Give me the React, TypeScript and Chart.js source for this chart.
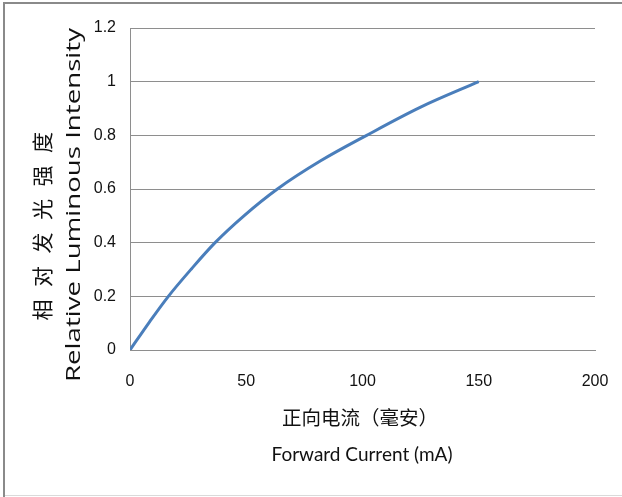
import React, { useEffect, useRef } from "react";
import { Chart, registerables } from "chart.js";

Chart.register(...registerables);

const currents = [0, 8.5, 16.5, 26.5, 36.6, 49, 63.4, 82, 101.8, 125, 150];
const intensity = [0, 0.106, 0.2, 0.303, 0.4, 0.5, 0.6, 0.705, 0.8, 0.905, 1.0];
const xTicks = [0, 50, 100, 150, 200];
const yTicks = [0, 0.2, 0.4, 0.6, 0.8, 1, 1.2];
const yTitleCn = "相对发光强度";
const yTitleEn = "Relative Luminous Intensity";
const xTitleCn = "正向电流（毫安）";
const xTitleEn = "Forward Current (mA)";

const titlePlugin = {
  id: "titles",
  beforeDraw(chart: any) {
    const ctx = chart.ctx;
    ctx.save();
    ctx.fillStyle = "#ffffff";
    ctx.fillRect(0, 0, chart.width, chart.height);
    ctx.fillStyle = "#8a8a8a";
    ctx.fillRect(3, 2, chart.width - 3, 2);
    ctx.fillRect(3, 2, 2, chart.height - 2);
    ctx.fillStyle = "#dadada";
    ctx.fillRect(5, chart.height - 2, chart.width - 5, 1);
    ctx.restore();
  },
  afterDraw(chart: any) {
    const ctx = chart.ctx;
    ctx.save();
    ctx.fillStyle = "#111111";
    ctx.textAlign = "center";
    ctx.textBaseline = "middle";
    ctx.font = "21px 'Noto Sans CJK SC'";
    const chars = Array.from(yTitleCn);
    chars.forEach((c, i) => {
      ctx.save();
      ctx.translate(42, 310 - i * 33.5);
      ctx.rotate(-Math.PI / 2);
      ctx.fillText(c, 0, 0);
      ctx.restore();
    });
    ctx.save();
    ctx.font = "20px 'Open Sans'";
    const w1 = ctx.measureText(yTitleEn).width;
    ctx.translate(74, 205);
    ctx.rotate(-Math.PI / 2);
    ctx.scale(354 / w1, 1);
    ctx.fillText(yTitleEn, 0, 0);
    ctx.restore();
    ctx.save();
    ctx.font = "19.5px 'Noto Sans CJK SC'";
    const w2 = ctx.measureText(xTitleCn).width;
    ctx.translate(360, 418);
    ctx.scale(156 / w2, 1);
    ctx.fillText(xTitleCn, 0, 0);
    ctx.restore();
    ctx.save();
    ctx.font = "20px 'Lato'";
    const w3 = ctx.measureText(xTitleEn).width;
    ctx.translate(362, 455);
    ctx.scale(181 / w3, 1);
    ctx.fillText(xTitleEn, 0, 0);
    ctx.restore();
    ctx.restore();
  },
};

export default function App() {
  const ref = useRef<HTMLCanvasElement>(null);
  useEffect(() => {
    if (!ref.current) return;
    const chart = new Chart(ref.current, {
      type: "line",
      data: {
        datasets: [
          {
            data: currents.map((x, i) => ({ x, y: intensity[i] })),
            borderColor: "#4a7ebb",
            borderWidth: 3,
            pointRadius: 0,
            cubicInterpolationMode: "monotone",
            fill: false,
          },
        ],
      },
      options: {
        responsive: false,
        animation: false,
        layout: { padding: { top: 28, right: 27, left: 0, bottom: 0 } },
        plugins: { legend: { display: false }, tooltip: { enabled: false } },
        scales: {
          x: {
            type: "linear",
            min: xTicks[0],
            max: xTicks[xTicks.length - 1],
            afterBuildTicks: (s: any) => {
              s.ticks = xTicks.map((v) => ({ value: v }));
            },
            afterFit: (s: any) => {
              s.height = 147;
              s.paddingLeft = 0;
              s.paddingRight = 0;
            },
            grid: { display: false, drawTicks: false },
            border: { display: true, color: "#8e8e8e", width: 1 },
            ticks: {
              padding: 22,
              color: "#111",
              font: { family: "'Liberation Sans'", size: 16 },
              callback: (v: any) => String(v),
            },
          },
          y: {
            type: "linear",
            min: yTicks[0],
            max: yTicks[yTicks.length - 1],
            afterBuildTicks: (s: any) => {
              s.ticks = yTicks.map((v) => ({ value: v }));
            },
            afterFit: (s: any) => {
              s.width = 130;
            },
            grid: { color: "#8e8e8e", lineWidth: 1, drawTicks: false },
            border: { display: true, color: "#8e8e8e", width: 1 },
            ticks: {
              padding: 14,
              color: "#111",
              font: { family: "'Liberation Sans'", size: 16 },
              callback: (v: any) => String(Math.round(v * 10) / 10),
            },
          },
        },
      },
      plugins: [titlePlugin],
    } as any);
    return () => chart.destroy();
  }, []);
  return (
    <div style={{ position: "absolute", left: 0, top: 0, width: 622, height: 497 }}>
      <canvas ref={ref} width={622} height={497} style={{ display: "block" }} />
    </div>
  );
}
